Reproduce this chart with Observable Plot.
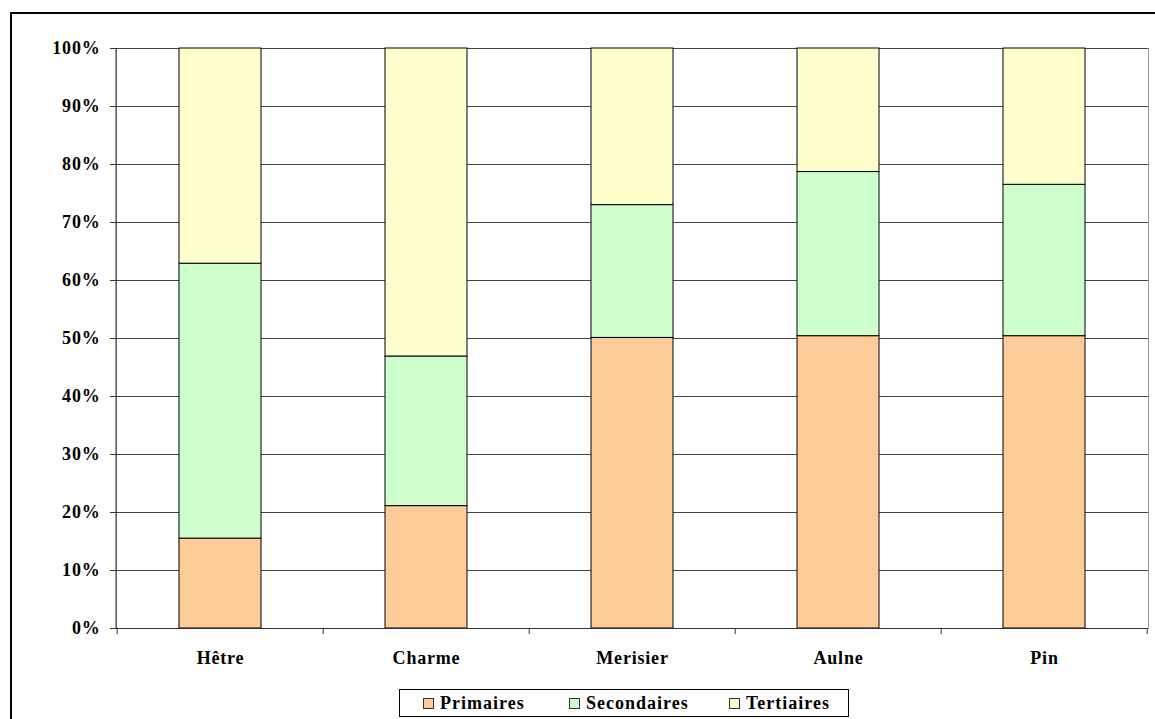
<!DOCTYPE html>
<html>
<head>
<meta charset="utf-8">
<script src="https://cdn.jsdelivr.net/npm/d3@7"></script>
<script src="https://cdn.jsdelivr.net/npm/@observablehq/plot@0.6"></script>
<style>
  html, body { margin: 0; padding: 0; background: #fff; overflow: hidden; }
  #outer { position: absolute; left: 10px; top: 12px; width: 1300px; height: 900px; border: 2px solid #000; pointer-events: none; }
  #chart { position: absolute; left: 0; top: 0; }
  #legend { position: absolute; left: 399px; top: 689px; width: 448px; height: 26px; border: 1px solid #000;
            display: flex; align-items: center; font-family: "Liberation Serif", serif; font-weight: bold; font-size: 18px; letter-spacing: 1px; background: #fff; }
  .item { display: flex; align-items: center; position: absolute; }
  .sw { width: 9px; height: 9px; border: 1px solid #333; margin-right: 6px; }
</style>
</head>
<body>
<div id="chart"></div>
<div id="legend"></div>
<div id="outer"></div>
<script>
const categories = ["Hêtre", "Charme", "Merisier", "Aulne", "Pin"];
const series = ["Primaires", "Secondaires", "Tertiaires"];
const primaires   = [15.5, 21.1, 50.1, 50.4, 50.4];
const secondaires = [47.4, 25.8, 22.9, 28.3, 26.1];
const tertiaires  = [37.1, 53.1, 27.0, 21.3, 23.5];
const colors = ["#FFCC99", "#CCFFCC", "#FFFFCC"];
const yTicks = [0, 10, 20, 30, 40, 50, 60, 70, 80, 90, 100];

const seriesValues = [primaires, secondaires, tertiaires];
const data = [];
categories.forEach((c, i) => {
  series.forEach((s, j) => data.push({cat: c, serie: s, value: seriesValues[j][i]}));
});

const PAD_INNER = 0.6;

// left axis line + x-axis tick marks at category boundaries, computed from the band scale
function boundaryTicks(index, scales, values, dimensions) {
  const x = scales.x;
  const step = x(categories[1]) - x(categories[0]);
  const bw = step * (1 - PAD_INNER);
  const y0 = dimensions.height - dimensions.marginBottom;
  const g = d3.create("svg:g");
  g.append("line").attr("x1", dimensions.marginLeft).attr("x2", dimensions.marginLeft)
    .attr("y1", dimensions.marginTop).attr("y2", y0).attr("stroke", "#333");
  const edges = categories.map(c => x(c) - (step - bw) / 2);
  edges.push(x(categories[categories.length - 1]) + bw + (step - bw) / 2);
  for (const e of edges) {
    g.append("line").attr("x1", e).attr("x2", e).attr("y1", y0).attr("y2", y0 + 6)
      .attr("stroke", "#333").attr("stroke-width", 1);
  }
  return g.node();
}

const plot = Plot.plot({
  width: 1155,
  height: 680,
  marginLeft: 116,
  marginRight: 7,
  marginTop: 48,
  marginBottom: 52,
  style: { fontFamily: "Liberation Serif, serif", fontSize: "18px", fontWeight: "bold", letterSpacing: "0.8px", color: "#000", background: "transparent" },
  x: { domain: categories, paddingInner: PAD_INNER, paddingOuter: 0.3, label: null },
  y: { domain: [0, 100], label: null },
  color: { domain: series, range: colors },
  marks: [
    Plot.frame({ stroke: "#999" }),
    Plot.ruleY(yTicks, { stroke: "#444", strokeWidth: 1 }),
    Plot.barY(data, Plot.stackY({ x: "cat", y: "value", fill: "serie", stroke: "#000", strokeWidth: 1 })),
    Plot.axisY(yTicks, { tickSize: 6, tickPadding: 10, tickFormat: d => d + "%", stroke: "#333" }),
    Plot.axisX({ tickSize: 0, tickPadding: 23 }),
    Plot.ruleY([0], { stroke: "#333" }),
    boundaryTicks
  ]
});
document.getElementById("chart").appendChild(plot);

const legend = document.getElementById("legend");
const offsets = [23, 169, 329];
series.forEach((s, i) => {
  const it = document.createElement("div");
  it.className = "item";
  it.style.left = offsets[i] + "px";
  const sw = document.createElement("div");
  sw.className = "sw";
  sw.style.background = colors[i];
  it.appendChild(sw);
  const t = document.createElement("span");
  t.textContent = s;
  it.appendChild(t);
  legend.appendChild(it);
});
</script>
</body>
</html>
